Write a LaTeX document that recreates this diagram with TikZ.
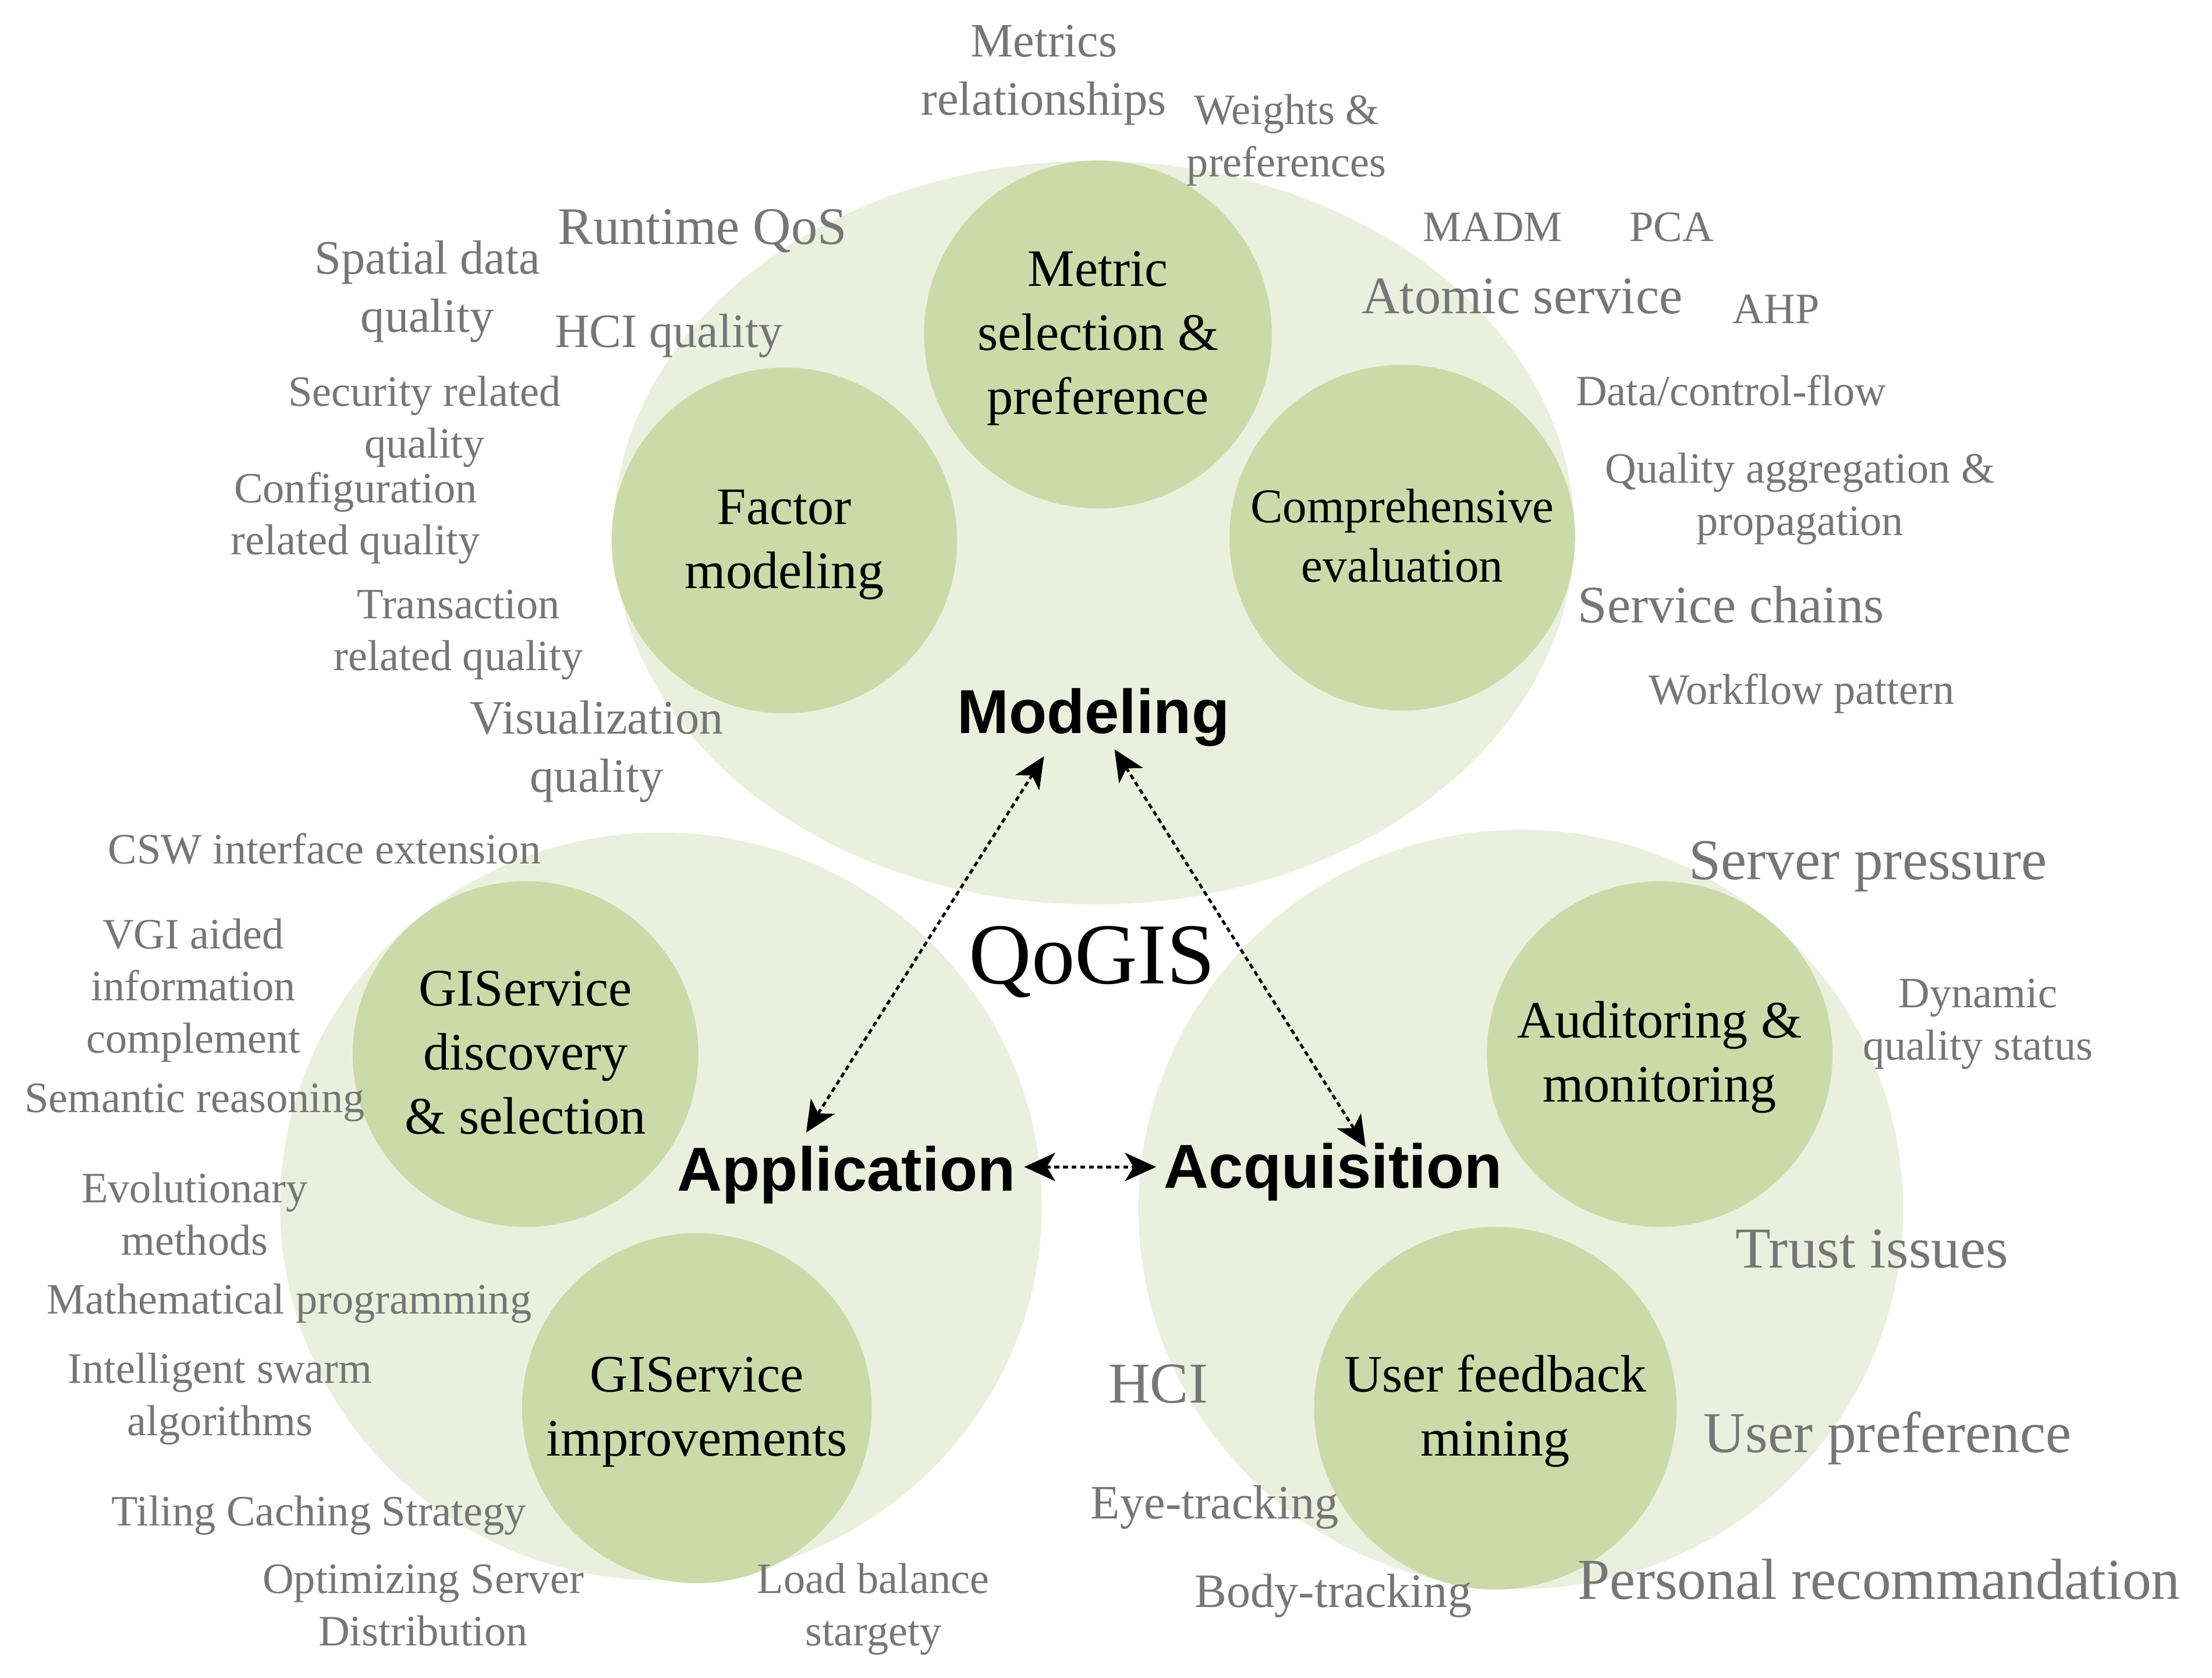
\documentclass[tikz,border=0pt]{standalone}
\usepackage{fontspec}
\setmainfont{Liberation Serif}
\newfontfamily\headfont{Liberation Sans}
\usetikzlibrary{shapes.geometric,arrows.meta}
\definecolor{ellfill}{RGB}{235,240,222}
\definecolor{cirfill}{RGB}{204,218,170}
\definecolor{graytext}{RGB}{118,118,118}
% uniform line strut: height 0.85em, depth 0.25em
\newcommand\vst{\rule[-0.25em]{0pt}{1.1em}}
\begin{document}
\begin{tikzpicture}[x=1pt,y=-1pt,
  bigell/.style={ellipse, fill=ellfill, inner sep=0pt},
  topic/.style={circle, fill=cirfill, inner sep=0pt, align=center,
    font=\fontsize{37.3}{45.4}\selectfont},
  kw/.style={text=graytext, align=center, inner sep=0pt,
    font=\fontsize{30.7}{37}\selectfont},
  kwm/.style={kw, font=\fontsize{34}{41.3}\selectfont},
  kwl/.style={kw, font=\fontsize{37.4}{45}\selectfont},
  kwxl/.style={kw, font=\fontsize{41}{49}\selectfont},
  head/.style={anchor=base, inner sep=0pt,
    font=\headfont\bfseries\fontsize{44}{52}\selectfont},
  link/.style={{Stealth[length=22pt,width=20pt,inset=6pt]}-{Stealth[length=22pt,width=20pt,inset=6pt]},
    dash pattern=on 3.5pt off 2.6pt, line width=2pt}
]
\useasboundingbox (0,0) rectangle (1568,1189);

% large ellipses
\node[bigell, minimum width=681pt, minimum height=527pt] (modE) at (775.5,377.5) {};
\node[bigell, minimum width=540pt, minimum height=530pt] (appE) at (468.5,855) {};
\node[bigell, minimum width=542pt, minimum height=538pt] (acqE) at (1078,857) {};

% topic circles
\node[topic, minimum size=246.6pt] (metric) at (778.3,237) {\vst Metric\\\vst selection \&\\\vst preference};
\node[topic, minimum size=245pt] (factor) at (556,383) {\vst Factor\\\vst modeling};
\node[topic, minimum size=245pt, font=\fontsize{34.3}{41.9}\selectfont] (compr) at (994,381) {\vst Comprehensive\\\vst evaluation};
\node[topic, minimum size=245pt] (disc) at (372.5,747) {\vst GIService\\\vst discovery\\\vst \& selection};
\node[topic, minimum size=248pt] (impr) at (494,998) {\vst GIService\\\vst improvements};
\node[topic, minimum size=245pt] (audit) at (1176.5,747) {\vst Auditoring \&\\\vst monitoring};
\node[topic, minimum size=257pt] (feed) at (1060,998) {\vst User feedback\\\vst mining};

% headings
\node[head] (model) at (775,519.5) {Modeling};
\node[head] (appl) at (600,844) {Application};
\node[head] (acqu) at (945,842) {Acquisition};
\node[anchor=base, inner sep=0pt, font=\fontsize{61.5}{70}\selectfont] (qogis) at (774,697.3) {QoGIS};

% connectors
\coordinate (mA) at (740,536);
\coordinate (aM) at (571.5,802.6);
\coordinate (mQ) at (790,531);
\coordinate (qM) at (968,813);
\coordinate (aQ) at (726,827);
\coordinate (qA) at (819.5,827);
\draw[link] (mA) -- (aM);
\draw[link] (mQ) -- (qM);
\draw[link] (aQ) -- (qA);

% keywords: modeling
\node[kwm] (k1) at (740,50.5) {\vst Metrics\\\vst relationships};
\node[kw] (k2) at (912,97.5) {\vst Weights \&\\\vst preferences};
\node[kwl] (k3) at (498,162) {\vst Runtime QoS};
\node[kwm] (k4) at (303,204.5) {\vst Spatial data\\\vst quality};
\node[kwm] (k5) at (474,236) {\vst HCI quality};
\node[kw] (k6) at (301,297) {\vst Security related\\\vst quality};
\node[kw] (k7) at (252,365.5) {\vst Configuration\\\vst related quality};
\node[kw] (k8) at (325,447.5) {\vst Transaction\\\vst related quality};
\node[kwm] (k9) at (423,530.5) {\vst Visualization\\\vst quality};
\node[kw] (k19a) at (1058,162) {\vst MADM};
\node[kw] (k19b) at (1185,162) {\vst PCA};
\node[kwl] (k20) at (1079,211) {\vst Atomic service};
\node[kw] (k21) at (1259,220) {\vst AHP};
\node[kw] (k22) at (1227,278) {\vst Data/control-flow};
\node[kw] (k23) at (1276,351.5) {\vst Quality aggregation \&\\\vst propagation};
\node[kwl] (k24) at (1227,430) {\vst Service chains};
\node[kw] (k25) at (1277,490) {\vst Workflow pattern};

% keywords: application
\node[kw] (k10) at (230,603) {\vst CSW interface extension};
\node[kw] (k11) at (137,700) {\vst VGI aided\\\vst information\\\vst complement};
\node[kw] (k12) at (138,779) {\vst Semantic reasoning};
\node[kw] (k13) at (138,861.5) {\vst Evolutionary\\\vst methods};
\node[kw] (k14) at (205,922) {\vst Mathematical programming};
\node[kw] (k15) at (156,989.5) {\vst Intelligent swarm\\\vst algorithms};
\node[kw] (k16) at (226,1072) {\vst Tiling Caching Strategy};
\node[kw] (k17) at (300,1138.5) {\vst Optimizing Server\\\vst Distribution};
\node[kw] (k18) at (619,1138.5) {\vst Load balance\\\vst stargety};

% keywords: acquisition
\node[kwxl] (k26) at (1324,611) {\vst Server pressure};
\node[kw] (k27) at (1402,723.5) {\vst Dynamic\\\vst quality status};
\node[kwxl] (k28) at (1327,886) {\vst Trust issues};
\node[kwxl] (k29) at (821,982) {\vst HCI};
\node[kwxl] (k30) at (1338,1017) {\vst User preference};
\node[kwm] (k31) at (861,1066) {\vst Eye-tracking};
\node[kwm] (k32) at (945,1129) {\vst Body-tracking};
\node[kwxl] (k33) at (1332,1121) {\vst Personal recommandation};
\end{tikzpicture}
\end{document}
